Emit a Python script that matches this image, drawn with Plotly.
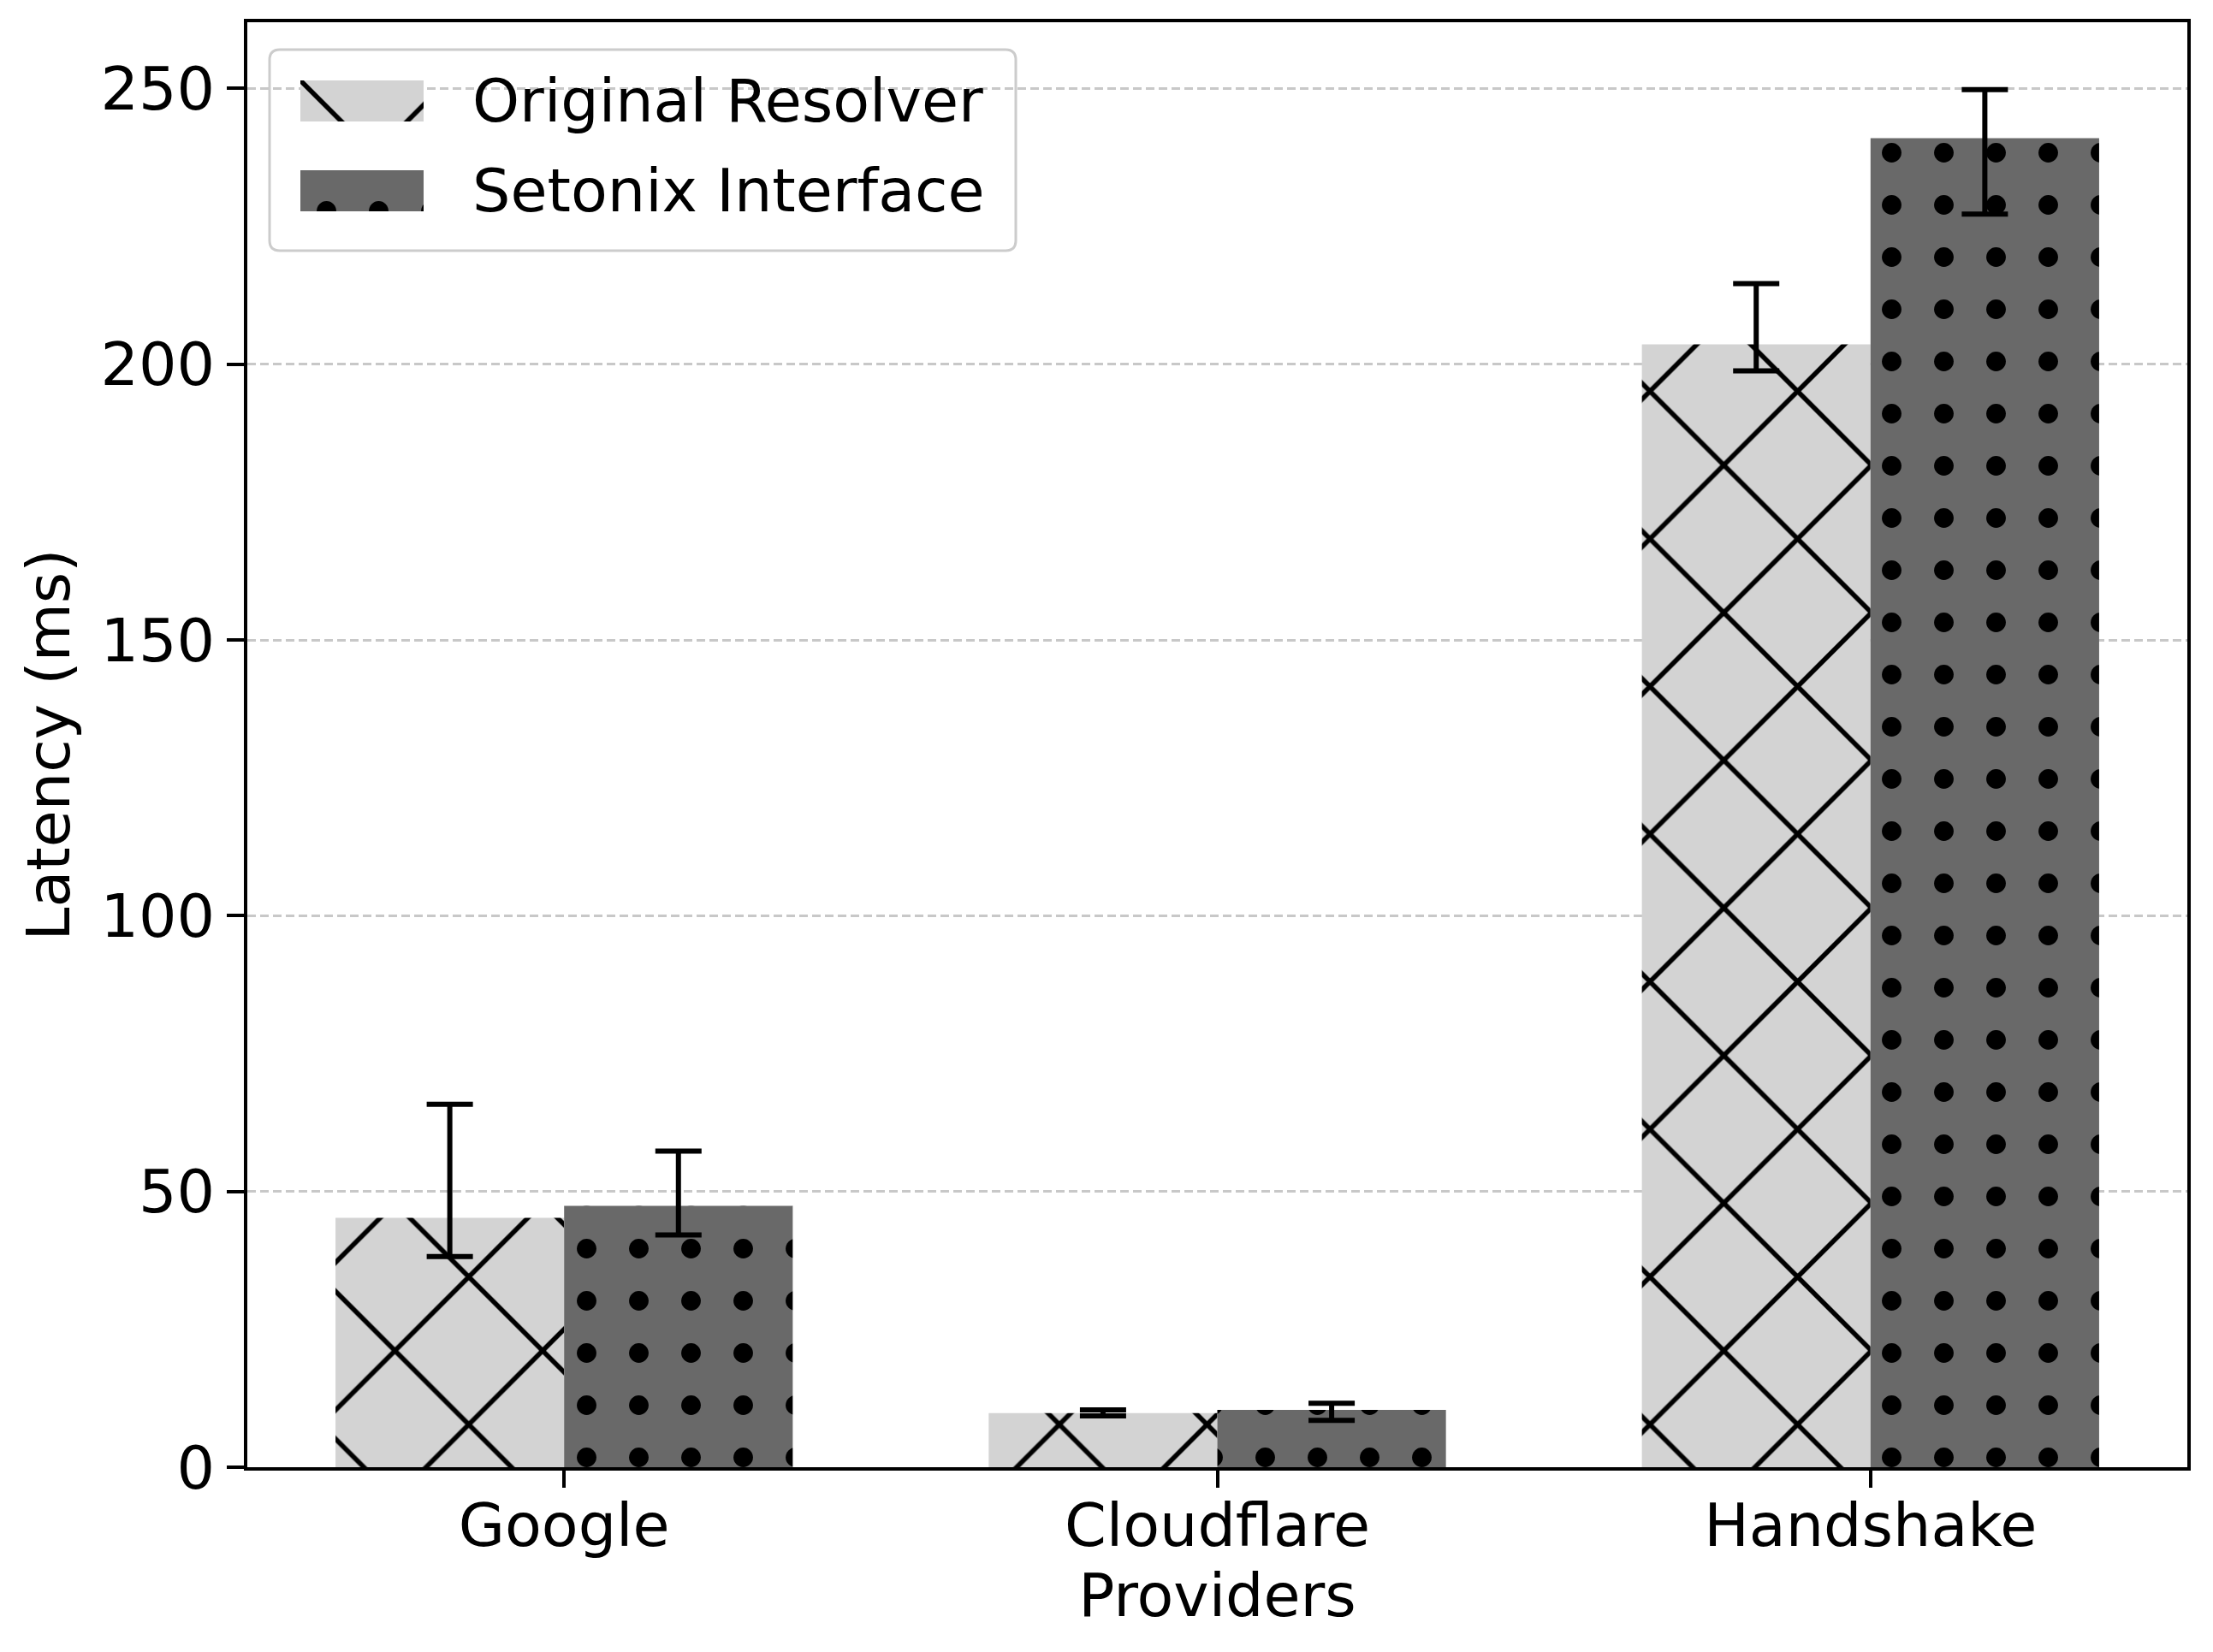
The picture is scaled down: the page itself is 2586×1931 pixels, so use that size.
import plotly.graph_objects as go

# values (ms)
providers = ["Google", "Cloudflare", "Handshake"]
orig_mean = [45.2, 9.8, 203.6]
orig_hi = [65.8, 10.4, 214.6]
orig_lo = [38.2, 9.3, 198.8]
seto_mean = [47.4, 10.4, 241.0]
seto_hi = [57.3, 11.6, 249.8]
seto_lo = [42.1, 8.5, 227.2]

series_names = ["Original Resolver", "Setonix Interface"]
y_ticks = [0, 50, 100, 150, 200, 250]

FONT = "DejaVu Sans"
FS = 70
W, H = 2586, 1931
# plot area in px
L, R, T, B = 289, 2556, 26, 1715
PW, PH = R - L, B - T

light = "#d3d3d3"
dark = "#696969"

hatch_x = dict(shape="x", fgcolor="black", fgopacity=1, size=122, solidity=0.09)
hatch_dot = dict(shape=".", fgcolor="black", fgopacity=1, size=61, solidity=0.11)


def err(mean, hi, lo):
    return dict(type="data", symmetric=False,
                array=[h - m for h, m in zip(hi, mean)],
                arrayminus=[m - l for m, l in zip(mean, lo)],
                color="black", thickness=6, width=27)


fig = go.Figure()
fig.add_trace(go.Bar(x=providers, y=orig_mean, name=series_names[0],
                     marker=dict(color=light, line_width=0, pattern=hatch_x),
                     error_y=err(orig_mean, orig_hi, orig_lo), showlegend=False))
fig.add_trace(go.Bar(x=providers, y=seto_mean, name=series_names[1],
                     marker=dict(color=dark, line_width=0, pattern=hatch_dot),
                     error_y=err(seto_mean, seto_hi, seto_lo), showlegend=False))


def px_x(x):
    return (x - L) / PW


def px_y(y):
    return (B - y) / PH


# hand-made legend: swatches drawn as bars on a small hidden axis
sw_x0, sw_x1 = 351, 495
sw_y0, sw_y1 = 94, 247
bw = 0.457
for i, (nm, col, pat) in enumerate([(series_names[0], light, hatch_x),
                                    (series_names[1], dark, hatch_dot)]):
    fig.add_trace(go.Bar(x=[1], y=[1 - i], orientation="h", width=bw,
                         marker=dict(color=col, line_width=0, pattern=pat),
                         xaxis="x2", yaxis="y2", showlegend=False, hoverinfo="skip"))
    fig.add_annotation(x=px_x(550), y=px_y(117.5 + 105 * i), xref="paper", yref="paper",
                       text=nm, showarrow=False, xanchor="left", yanchor="middle",
                       font=dict(family=FONT, size=FS, color="black"))

# legend frame with rounded corners
bx0, bx1, by0, by1 = px_x(315), px_x(1187), px_y(293), px_y(58)
rx, ry = 12 / PW, 12 / PH
path = (f"M{bx0+rx},{by0} L{bx1-rx},{by0} Q{bx1},{by0} {bx1},{by0+ry} "
        f"L{bx1},{by1-ry} Q{bx1},{by1} {bx1-rx},{by1} L{bx0+rx},{by1} "
        f"Q{bx0},{by1} {bx0},{by1-ry} L{bx0},{by0+ry} Q{bx0},{by0} {bx0+rx},{by0} Z")
fig.add_shape(type="path", path=path, xref="paper", yref="paper", layer="between",
              fillcolor="rgba(255,255,255,0.8)", line=dict(color="#cccccc", width=3))

fig.update_layout(
    width=W, height=H,
    margin=dict(l=L, r=W - R, t=T, b=H - B),
    paper_bgcolor="white", plot_bgcolor="white",
    font=dict(family=FONT, size=FS, color="black"),
    barmode="group", bargap=0.3, bargroupgap=0,
    showlegend=False,
    xaxis=dict(type="category", range=[-0.485, 2.485], showline=True, mirror=True,
               linecolor="black", linewidth=4, ticks="outside", ticklen=20, tickwidth=4,
               tickcolor="black", showgrid=False, zeroline=False,
               tickfont=dict(size=FS), ticklabelstandoff=-16,
               title=dict(text="Providers", standoff=5, font=dict(size=FS))),
    yaxis=dict(range=[0, 262], tickvals=y_ticks, showline=True, mirror=True,
               linecolor="black", linewidth=4, ticks="outside", ticklen=20, tickwidth=4,
               tickcolor="black", showgrid=True, gridcolor="#c8c8c8", gridwidth=3,
               griddash="10px,5px", zeroline=False,
               tickfont=dict(size=FS),
               title=dict(text="Latency (ms)", standoff=14, font=dict(size=FS))),
    xaxis2=dict(domain=[px_x(sw_x0), px_x(sw_x1)], range=[0, 1], anchor="y2",
                visible=False, fixedrange=True),
    yaxis2=dict(domain=[px_y(sw_y1), px_y(sw_y0)], range=[-bw / 2, 1 + bw / 2],
                anchor="x2", visible=False, fixedrange=True),
)

fig.write_html("out.html", config={"displayModeBar": False},
               post_script="document.body.style.margin='0';")
